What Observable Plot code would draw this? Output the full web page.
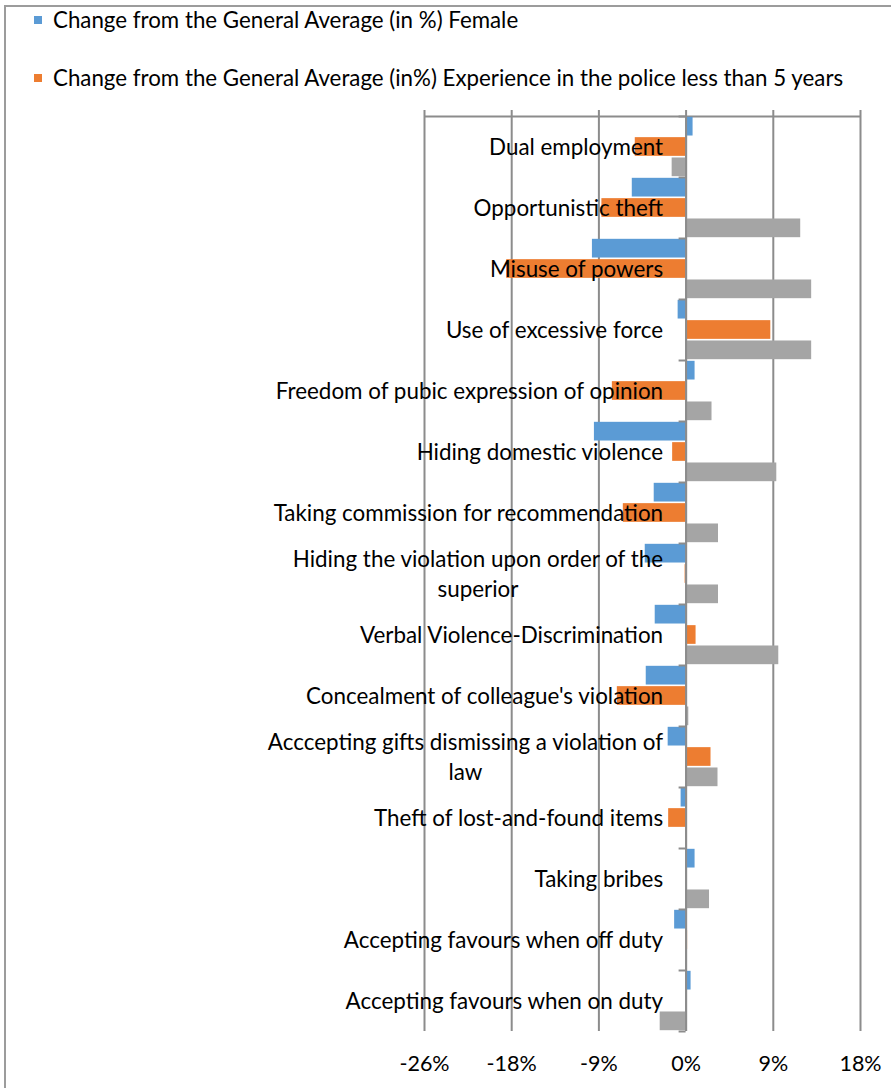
<!DOCTYPE html>
<html>
<head>
<meta charset="utf-8">
<script src="https://cdn.jsdelivr.net/npm/d3@7"></script>
<script src="https://cdn.jsdelivr.net/npm/@observablehq/plot@0.6"></script>
<style>
  html, body { margin: 0; padding: 0; background: #fff; }
  body { font-family: Lato, "Open Sans", sans-serif; }
  #wrap { position: relative; width: 891px; height: 1088px; overflow: hidden; background: #fff; }
  #border { position: absolute; left: 4px; top: 5px; width: 900px; height: 1100px;
            border-left: 2px solid #9c9c9c; border-top: 2px solid #9c9c9c; box-sizing: border-box; }
  .lg-row { position: absolute; left: 34px; height: 24px; font-size: 22.3px; line-height: 24px; color: #000; white-space: nowrap; }
  .lg-sw { position: absolute; left: 0; top: 8px; width: 8px; height: 8px; }
  .lg-tx { position: absolute; left: 19px; top: 0; }
  #chart { position: absolute; left: 0; top: 100px; }
</style>
</head>
<body>
<div id="wrap">
  <div id="border"></div>
  <div id="legend"></div>
  <div id="chart"></div>
</div>
<script>
// ---- Data (in %) ----
const categories = [
  "Dual employment",
  "Opportunistic theft",
  "Misuse of powers",
  "Use of excessive force",
  "Freedom of pubic expression of opinion",
  "Hiding domestic violence",
  "Taking commission for recommendation",
  "Hiding the violation upon order of the superior",
  "Verbal Violence-Discrimination",
  "Concealment of colleague's violation",
  "Acccepting gifts dismissing a violation of law",
  "Theft of lost-and-found items",
  "Taking bribes",
  "Accepting favours when off duty",
  "Accepting favours when on duty"
];
const seriesNames = [
  "Change from the General Average (in %) Female",
  "Change from the General Average (in%) Experience in the police less than 5 years",
  "Third series (legend entry not shown)"
];
const femaleValues     = [0.7, -5.4, -9.4, -0.8, 0.9, -9.2, -3.2, -4.1, -3.1, -4.0, -1.8, -0.5, 0.9, -1.15, 0.5];
const experienceValues = [-5.1, -8.45, -18.0, 8.5, -7.4, -1.35, -6.3, -0.1, 1.0, -6.9, 2.5, -1.75, 0, 0.15, 0];
const thirdValues      = [-1.4, 11.5, 12.6, 12.6, 2.6, 9.1, 3.25, 3.25, 9.3, 0.27, 3.2, 0, 2.35, 0, -2.6];
const seriesColors = ["#5B9BD5", "#ED7D31", "#A5A5A5"];
const legendSeries = [0, 1];           // only these two appear in the legend
const tickValues = [-26.25, -17.5, -8.75, 0, 8.75, 17.5];
const xDomain = [-26.25, 17.5];

// ---- Build the table ----
const seriesValues = [femaleValues, experienceValues, thirdValues];
const rows = categories.flatMap((c, i) =>
  seriesNames.map((s, j) => ({category: c, series: s, value: seriesValues[j][i], i, j}))
);

// ---- Legend (HTML, above the SVG) ----
const legend = document.getElementById("legend");
legendSeries.forEach((k, n) => {
  const row = document.createElement("div");
  row.className = "lg-row";
  row.style.top = (8 + n * 58) + "px";
  row.innerHTML = `<span class="lg-sw" style="background:${seriesColors[k]}"></span><span class="lg-tx"></span>`;
  row.querySelector(".lg-tx").textContent = seriesNames[k];
  legend.appendChild(row);
});

// ---- Label wrapping with real text measurement ----
const labelSize = 22.4;
const ctx = document.createElement("canvas").getContext("2d");
ctx.font = `${labelSize}px Lato`;
function wrapLabel(s, maxW = 412) {
  const words = s.split(" ");
  const lines = [];
  let cur = "";
  for (const w of words) {
    const t = cur ? cur + " " + w : w;
    if (cur && ctx.measureText(t).width > maxW) { lines.push(cur); cur = w; }
    else cur = t;
  }
  if (cur) lines.push(cur);
  return lines.join("\n");
}

const fmtTick = d => (d < 0 ? "-" : "") + Math.round(Math.abs(d)) + "%";
const gridColor = "#8c8c8c";
const pad = 0.04; // fraction of each bar slot left as gap

const plot = Plot.plot({
  width: 891,
  height: 988,
  marginLeft: 424,
  marginRight: 31,
  marginTop: 16,
  marginBottom: 57,
  style: {fontFamily: "Lato, sans-serif", fontSize: "22px", color: "#000", background: "transparent"},
  x: {type: "linear", domain: xDomain, label: null},
  y: {type: "linear", domain: [0, categories.length], reverse: true, axis: null},
  color: {domain: seriesNames, range: seriesColors},
  marks: [
    Plot.ruleX(tickValues, {x: d => d, stroke: gridColor, strokeWidth: 2, insetTop: -6}),
    Plot.ruleY([0], {y: d => d, stroke: gridColor, strokeWidth: 2}),
    Plot.rect(rows, {
      x1: () => 0,
      x2: "value",
      y1: d => d.i + (d.j + pad) / 3,
      y2: d => d.i + (d.j + 1 - pad) / 3,
      fill: "series"
    }),
    Plot.ruleX([0], {x: d => d, stroke: gridColor, strokeWidth: 2}),
    Plot.ruleY(d3.range(categories.length + 1), {y: d => d, x1: () => 0, x2: () => 0, insetLeft: -7, stroke: gridColor, strokeWidth: 2}),
    Plot.text(categories, {
      x: () => 0,
      y: (d, i) => i + 0.5,
      text: d => wrapLabel(d),
      textAnchor: "end",
      dx: -23,
      dy: -2,
      fontSize: labelSize,
      lineHeight: 1.34,
      fill: "#000"
    }),
    Plot.axisX(tickValues, {tickSize: 0, tickPadding: 24, tickFormat: fmtTick, fontSize: 21.5, fill: "#000"})
  ]
});

document.getElementById("chart").appendChild(plot);

// centre the lines of wrapped labels within their right-aligned block
plot.querySelectorAll('g[aria-label="text"] text').forEach(t => {
  const spans = t.querySelectorAll("tspan");
  if (spans.length > 1) {
    const w = [...spans].map(s => s.getComputedTextLength());
    const m = Math.max(...w);
    spans.forEach((s, k) => s.setAttribute("x", -(m - w[k]) / 2));
  }
});
</script>
</body>
</html>
